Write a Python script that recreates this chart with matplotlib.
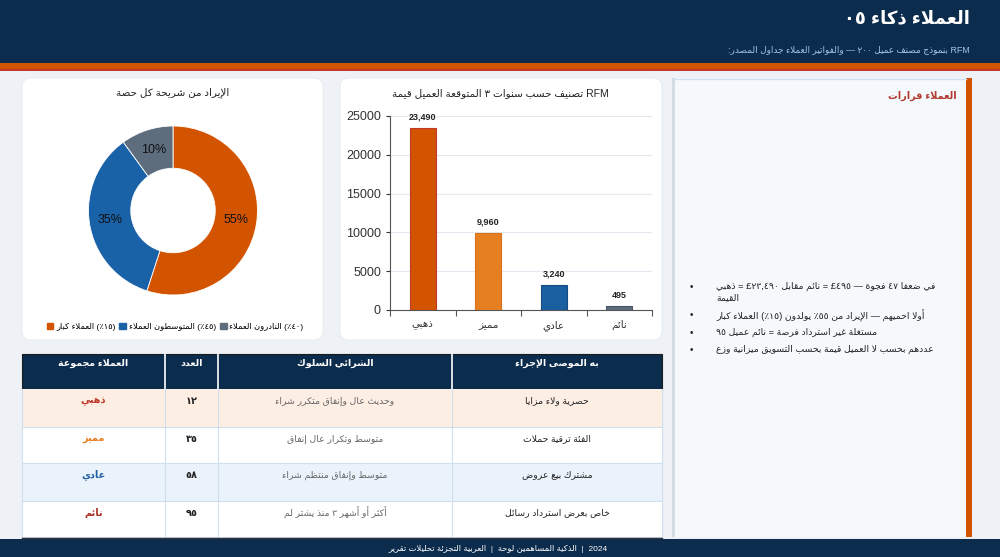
import matplotlib
matplotlib.use("Agg")
import matplotlib.pyplot as plt
from matplotlib.patches import Rectangle, FancyBboxPatch, Patch

plt.rcParams['font.family'] = ['Liberation Sans', 'DejaVu Sans']

# --- chart data ---
segments = ["ذهبي", "مميز", "عادي", "نائم"]
clv_values = [23490, 9960, 3240, 495]
bar_colors = ["#d35400", "#e67e22", "#1a5fa0", "#5d6d7e"]
bar_edges = ["#c0392b", "#d9701a", "#154c82", "#4a5866"]

share_labels = ["كبار العملاء (٪١٥)", "العملاء المتوسطون (٪٤٥)", "العملاء النادرون (٪٤٠)"]
revenue_share = [55, 35, 10]
pie_colors = ["#d35400", "#1a62a8", "#5d6d7e"]

table_headers = ["مجموعة العملاء", "العدد", "السلوك الشرائي", "الإجراء الموصى به"]
counts = ["١٢", "٣٥", "٥٨", "٩٥"]
behaviour = ["شراء متكرر وإنفاق عالٍ وحديث", "إنفاق عالٍ وتكرار متوسط",
             "شراء منتظم وإنفاق متوسط", "لم يشترِ منذ ٣ أشهر أو أكثر"]
actions = ["مزايا ولاء حصرية", "حملات ترقية الفئة", "عروض بيع مشترك", "رسائل استرداد بعرض خاص"]
group_colors = ["#c0392b", "#e67e22", "#1f5fa0", "#a93226"]
row_fills = ["#fdeee4", "#ffffff", "#eaf3fb", "#ffffff"]

title = "٠٥ ذكاء العملاء"
subtitle = "المصدر: جداول العملاء والفواتير — ٢٠٠ عميل مصنف بنموذج RFM"
pie_title = "حصة كل شريحة من الإيراد"
bar_title = "قيمة العميل المتوقعة ٣ سنوات حسب تصنيف RFM"
insight_title = "قرارات العملاء"
insights = ["ذهبي = £٢٣,٤٩٠ مقابل نائم = £٤٩٥ — فجوة ٤٧ ضعفاً في\nالقيمة",
            "كبار العملاء (٪١٥) يولدون ٪٥٥ من الإيراد — احميهم أولاً",
            "٩٥ عميل نائم = فرصة استرداد غير مستغلة",
            "وزّع ميزانية التسويق بحسب قيمة العميل لا بحسب عددهم"]
footer = "تقرير تحليلات التجزئة العربية  |  لوحة المساهمين الذكية  |  2024"

# --- minimal arabic shaping (matplotlib has no text layout engine) ---
DUAL = {'ئ': 0xFE89, 'ب': 0xFE8F, 'ت': 0xFE95, 'ث': 0xFE99, 'ج': 0xFE9D, 'ح': 0xFEA1,
        'خ': 0xFEA5, 'س': 0xFEB1, 'ش': 0xFEB5, 'ص': 0xFEB9, 'ض': 0xFEBD, 'ط': 0xFEC1,
        'ظ': 0xFEC5, 'ع': 0xFEC9, 'غ': 0xFECD, 'ف': 0xFED1, 'ق': 0xFED5, 'ك': 0xFED9,
        'ل': 0xFEDD, 'م': 0xFEE1, 'ن': 0xFEE5, 'ه': 0xFEE9, 'ي': 0xFEF1}
RIGHT = {'آ': 0xFE81, 'أ': 0xFE83, 'ؤ': 0xFE85, 'إ': 0xFE87, 'ا': 0xFE8D, 'ة': 0xFE93,
         'د': 0xFEA9, 'ذ': 0xFEAB, 'ر': 0xFEAD, 'ز': 0xFEAF, 'و': 0xFEED, 'ى': 0xFEEF}
LAMALEF = {'آ': 0xFEF5, 'أ': 0xFEF7, 'إ': 0xFEF9, 'ا': 0xFEFB}
MARKS = {chr(c) for c in range(0x064B, 0x0653)}


def kind(tok):
    typ, c = tok
    if typ == 'LA' or c in RIGHT:
        return 'R'
    if c in DUAL:
        return 'D'
    return 'U'


def shape_word(w):
    chars = [c for c in w if c not in MARKS]
    toks = []
    i = 0
    while i < len(chars):
        if chars[i] == 'ل' and i + 1 < len(chars) and chars[i + 1] in LAMALEF:
            toks.append(('LA', chars[i + 1]))
            i += 2
        else:
            toks.append(('C', chars[i]))
            i += 1
    out = []
    for j, t in enumerate(toks):
        k = kind(t)
        prev_join = j > 0 and kind(toks[j - 1]) == 'D'
        next_join = j + 1 < len(toks) and kind(toks[j + 1]) in ('D', 'R')
        typ, c = t
        if typ == 'LA':
            out.append(chr(LAMALEF[c] + (1 if prev_join else 0)))
        elif k == 'D':
            idx = (3 if prev_join else 2) if next_join else (1 if prev_join else 0)
            out.append(chr(DUAL[c] + idx))
        elif k == 'R':
            out.append(chr(RIGHT[c] + (1 if prev_join else 0)))
        elif c == 'ء':
            out.append('\ufe80')
        else:
            out.append(c)
    return ''.join(reversed(out))


def ar(s):
    lines = []
    for line in s.split('\n'):
        words = []
        for w in line.split(' '):
            if any('\u0621' <= c <= '\u064a' for c in w):
                words.append(shape_word(w))
            else:
                words.append(w)
        lines.append(' '.join(words))
    return '\n'.join(lines)


NAVY = "#0c2c4e"
ORANGE = "#d35400"

fig = plt.figure(figsize=(10, 5.57), dpi=100, facecolor="#eef2f7")
bg = fig.add_axes([0, 0, 1, 1])
bg.set_xlim(0, 1000)
bg.set_ylim(557, 0)
bg.axis('off')
bg.set_zorder(0)

# header band
bg.add_patch(Rectangle((0, 0), 1000, 63, color=NAVY, lw=0))
bg.add_patch(Rectangle((0, 63), 1000, 6, color=ORANGE, lw=0))
bg.add_patch(Rectangle((0, 69), 1000, 1.5, color="#c0392b", lw=0))
bg.text(970, 19, ar(title), ha='right', va='center', color='white', fontsize=13, fontweight='bold')
bg.text(970, 50, ar(subtitle), ha='right', va='center', color='#9ec5ea', fontsize=6.4)

# cards
for x0, x1 in [(22, 323), (340, 662)]:
    bg.add_patch(FancyBboxPatch((x0, 78), x1 - x0, 262, boxstyle="round,pad=0,rounding_size=9",
                                fc='white', ec='#e4e9ef', lw=0.6))
bg.text(173, 93, ar(pie_title), ha='center', va='center', fontsize=7.5, color='#222')
bg.text(500, 93, ar(bar_title), ha='center', va='center', fontsize=7.5, color='#222')

# insights panel
bg.add_patch(Rectangle((672, 78), 294, 459, fc='#f6f9fc', ec='none'))
bg.add_patch(Rectangle((672, 78), 3, 459, fc='#d5dbe2', ec='none'))
bg.plot([672, 966], [78.5, 78.5], color='#cfe0ee', lw=1)
bg.add_patch(Rectangle((966, 78), 6, 459, fc=ORANGE, ec='none'))
bg.text(957, 96, ar(insight_title), ha='right', va='center', fontsize=7, fontweight='bold', color='#b03a2e')
bullet_y = [287, 315, 333, 350]
for y, txt in zip(bullet_y, insights):
    bg.text(691, y, "•", ha='center', va='center', fontsize=7, color='#222')
    bg.text(716, y - 5.5, ar(txt), ha='left', va='top', fontsize=6.7, color='#222', linespacing=1.3)

# table
col_x = [22, 165, 218, 452, 662]
row_y = [389, 427, 463, 501, 537]
bg.add_patch(Rectangle((22, 354), 640, 35, fc=NAVY, ec='#1b1b1b', lw=0.8))
for j, h in enumerate(table_headers):
    cx = (col_x[j] + col_x[j + 1]) / 2
    bg.text(cx, 363, ar(h), ha='center', va='center', fontsize=6.8, fontweight='bold', color='white')
for xv in col_x[1:-1]:
    bg.plot([xv, xv], [354, 389], color='white', lw=1.2)
for i in range(len(segments)):
    y0, y1 = row_y[i], row_y[i + 1]
    bg.add_patch(Rectangle((22, y0), 640, y1 - y0, fc=row_fills[i], ec='none'))
    bg.plot([22, 662], [y1, y1], color='#cfdfee', lw=0.8)
    ty = y0 + 12
    bg.text(93.5, ty, ar(segments[i]), ha='center', va='center', fontsize=7, fontweight='bold',
            color=group_colors[i])
    bg.text(191.5, ty, counts[i], ha='center', va='center', fontsize=7, fontweight='bold', color='#222')
    bg.text(335, ty, ar(behaviour[i]), ha='center', va='center', fontsize=6.7, color='#666')
    bg.text(557, ty, ar(actions[i]), ha='center', va='center', fontsize=6.7, color='#222')
for xv in col_x:
    bg.plot([xv, xv], [389, 537], color='#cfdfee', lw=0.8)
bg.plot([22, 662], [537.5, 537.5], color='#333', lw=1)

# footer
bg.add_patch(Rectangle((0, 539), 1000, 18, color=NAVY, lw=0))
bg.text(498, 549, ar(footer), ha='center', va='center', fontsize=6, color='white')

# --- bar chart ---
ax = fig.add_axes([0.39, 1 - 310 / 557, 0.262, (310 - 116) / 557])
ax.set_zorder(2)
ax.patch.set_alpha(0)
xs = list(range(len(segments)))
ax.bar(xs, clv_values, width=0.4, color=bar_colors, edgecolor=bar_edges, linewidth=0.8, zorder=3)
for xi, v in zip(xs, clv_values):
    ax.text(xi, v + 1400, f"{v:,}", ha='center', va='center', fontsize=6.5, fontweight='bold', color='#222')
ax.set_xlim(-0.5, 3.5)
ax.set_ylim(0, 25000)
ax.set_yticks(range(0, 25001, 5000))
ax.tick_params(axis='y', labelsize=9, colors='#333', length=3)
ax.set_xticks([-0.5, 0.5, 1.5, 2.5, 3.5])
ax.set_xticklabels([])
ax.set_xticks(xs, minor=True)
ax.set_xticklabels([ar(s) for s in segments], minor=True, fontsize=7.5, color='#333')
ax.tick_params(axis='x', which='major', length=4, color='#555')
ax.tick_params(axis='x', which='minor', length=0, pad=7)
ax.grid(axis='y', color='#e3e9f0', lw=0.8, zorder=0)
for s in ['top', 'right']:
    ax.spines[s].set_visible(False)
for s in ['left', 'bottom']:
    ax.spines[s].set_color('#555')
    ax.spines[s].set_linewidth(0.8)

# --- donut ---
ax2 = fig.add_axes([0.0885, 1 - 295 / 557, 0.169, 169 / 557])
ax2.set_zorder(2)
ax2.pie(revenue_share, colors=pie_colors, startangle=90, counterclock=False,
        wedgeprops=dict(width=0.5, edgecolor='white', linewidth=0.6),
        autopct=lambda p: f"{p:.0f}%", pctdistance=0.75,
        textprops=dict(fontsize=9, color='#111'))
ax2.set_xlim(-1, 1)
ax2.set_ylim(-1, 1)

handles = [Patch(color=c) for c in pie_colors]
fig.legend(handles, [ar(s) for s in share_labels], loc='center', bbox_to_anchor=(0.175, 1 - 327 / 557),
           ncol=3, frameon=False, fontsize=6, handlelength=0.8, handleheight=0.8,
           handletextpad=0.3, columnspacing=0.5)

fig.savefig("out.png", dpi=100, facecolor=fig.get_facecolor())
